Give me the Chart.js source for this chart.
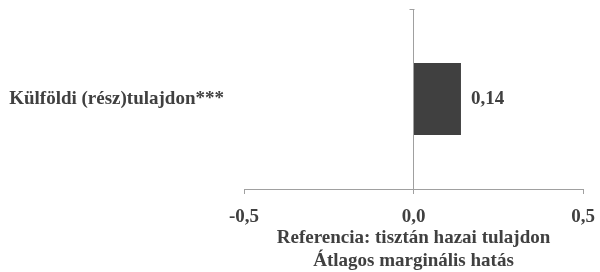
<!DOCTYPE html>
<html>
<head>
<meta charset="utf-8">
<script src="https://cdn.jsdelivr.net/npm/chart.js@4.4.0/dist/chart.umd.min.js"></script>
<style>
  html, body { margin: 0; padding: 0; background: #fff; }
  #wrap { width: 600px; height: 272px; }
</style>
</head>
<body>
<div id="wrap"><canvas id="chart"></canvas></div>
<script>
const categories = ["Külföldi (rész)tulajdon***"];
const effects = [0.14];
const xMin = -0.5;
const xMax = 0.5;
const xStep = 0.5;
const axisTitle = ["Referencia: tisztán hazai tulajdon", "Átlagos marginális hatás"];

const textColor = "#404040";
const lineColor = "#a0a0a0";
const fontFamily = "'Liberation Serif', 'Times New Roman', serif";
const fontSize = 19;

// comma as decimal separator
function fmt(v, digits) {
  return v.toFixed(digits).replace(".", ",");
}

// value labels next to bars + small tick at top of the zero axis
const extras = {
  id: "extras",
  afterDatasetsDraw(chart) {
    const ctx = chart.ctx;
    const meta = chart.getDatasetMeta(0);
    ctx.save();
    ctx.font = "bold " + fontSize + "px " + fontFamily;
    ctx.fillStyle = textColor;
    ctx.textAlign = "left";
    ctx.textBaseline = "middle";
    meta.data.forEach((bar, i) => {
      ctx.fillText(fmt(effects[i], 2), bar.x + 10, bar.y);
    });
    const x0 = Math.round(chart.scales.x.getPixelForValue(0)) + 0.5;
    const top = Math.round(chart.chartArea.top) + 0.5;
    ctx.strokeStyle = lineColor;
    ctx.lineWidth = 1;
    ctx.beginPath();
    ctx.moveTo(x0 - 5, top);
    ctx.lineTo(x0, top);
    ctx.stroke();
    ctx.restore();
  }
};

new Chart(document.getElementById("chart"), {
  type: "bar",
  data: {
    labels: categories,
    datasets: [{
      data: effects,
      backgroundColor: "#404040",
      categoryPercentage: 1,
      barPercentage: 0.4
    }]
  },
  options: {
    indexAxis: "y",
    responsive: true,
    maintainAspectRatio: false,
    animation: false,
    layout: { padding: { top: 9, right: 17, left: 0, bottom: 0 } },
    plugins: {
      legend: { display: false },
      tooltip: { enabled: false }
    },
    scales: {
      x: {
        min: xMin,
        max: xMax,
        ticks: {
          stepSize: xStep,
          padding: 12,
          color: textColor,
          font: { family: fontFamily, size: fontSize, weight: "bold" },
          callback: (v) => fmt(v, 1)
        },
        grid: {
          color: (c) => (c.tick && c.tick.value === 0 ? lineColor : "rgba(0,0,0,0)"),
          tickColor: lineColor,
          tickLength: 5
        },
        border: { color: lineColor },
        title: {
          display: true,
          text: axisTitle,
          color: textColor,
          font: { family: fontFamily, size: fontSize, weight: "bold", lineHeight: 23 / fontSize },
          padding: { top: 0, bottom: -1 }
        },
        afterFit: (scale) => {
          scale.height = 83;
          scale.paddingLeft = 0;
          scale.paddingRight = 0;
        }
      },
      y: {
        grid: { display: false, drawTicks: false },
        border: { display: false },
        ticks: {
          padding: 20,
          color: textColor,
          font: { family: fontFamily, size: fontSize, weight: "bold" }
        },
        afterFit: (scale) => {
          scale.width = 244;
          scale.paddingTop = 0;
          scale.paddingBottom = 0;
        }
      }
    }
  },
  plugins: [extras]
});
</script>
</body>
</html>
